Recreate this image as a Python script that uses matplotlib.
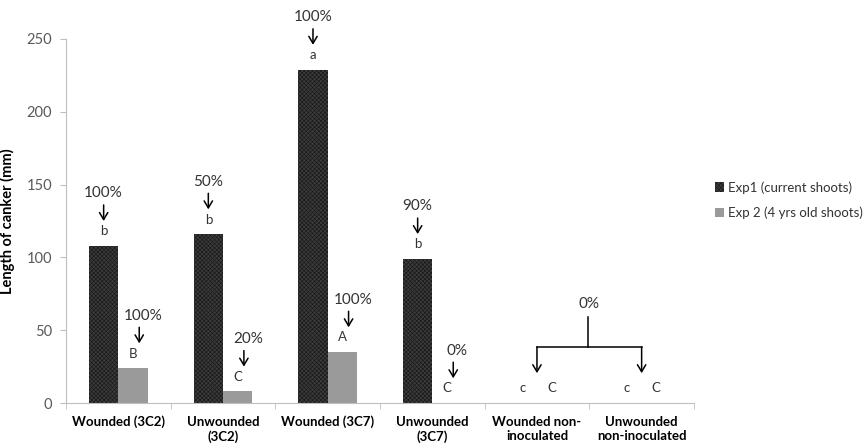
import matplotlib
matplotlib.use("Agg")
import matplotlib.pyplot as plt
import numpy as np

# canker length per treatment
categories = ["Wounded (3C2)", "Unwounded\n(3C2)", "Wounded (3C7)", "Unwounded\n(3C7)",
              "Wounded non-\ninoculated", "Unwounded\nnon-inoculated"]
exp1 = [108, 116, 229, 99, 0, 0]
exp2 = [24, 8, 35, 0, 0, 0]
exp1_pct = ["100%", "50%", "100%", "90%", None, None]
exp2_pct = ["100%", "20%", "100%", "0%", None, None]
exp1_letters = ["b", "b", "a", "b", "c", "c"]
exp2_letters = ["B", "C", "A", "C", "C", "C"]
shared_pct = "0%"

plt.rcParams['font.family'] = ['Lato', 'DejaVu Sans']
plt.rcParams['hatch.color'] = '#1a1a1a'
plt.rcParams['hatch.linewidth'] = 0.5

fig = plt.figure(figsize=(8.68, 4.47), dpi=100)
ax = fig.add_axes([0.076, 0.0984, 0.7235, 0.8144])

x = np.arange(len(categories))
w = 0.28
b1 = ax.bar(x - w / 2, exp1, w, color='#3c3c3c', hatch='xxxxxxxx', linewidth=0,
            label='Exp1 (current shoots)')
b2 = ax.bar(x + w / 2, exp2, w, color='#9a9a9a', linewidth=0,
            label='Exp 2 (4 yrs old shoots)')

ax.set_xlim(-0.5, len(categories) - 0.5)
ax.set_ylim(0, 250)
ax.set_yticks(range(0, 251, 50))
ax.set_xticks(x)
ax.set_xticklabels(categories, fontweight='bold', fontsize=9.5, linespacing=1.25)
ax.set_xticks(np.arange(-0.5, len(categories), 1), minor=True)
ax.tick_params(axis='x', which='major', length=0, pad=9)
ax.tick_params(axis='x', which='minor', length=4, color='#bfbfbf')
ax.tick_params(axis='y', length=4, color='#bfbfbf', labelsize=10.5, labelcolor='#595959', pad=6)
ax.set_ylabel('Length of canker (mm)', fontweight='bold', fontsize=10.5, labelpad=8)
for s in ['top', 'right']:
    ax.spines[s].set_visible(False)
for s in ['left', 'bottom']:
    ax.spines[s].set_color('#bfbfbf')

arrow = dict(arrowstyle='->, head_length=0.5, head_width=0.3', color='black', lw=1.1,
             shrinkA=0, shrinkB=0)


def mark(xc, val, pct, letter, dx_arrow=0.0, dx_pct=0.0):
    ax.text(xc, val + 10, letter, ha='center', va='center', fontsize=9.5, color='#333333')
    if pct is None:
        return
    ax.annotate('', xy=(xc + dx_arrow, val + 17), xytext=(xc + dx_arrow, val + 28),
                arrowprops=arrow, annotation_clip=False)
    ax.text(xc + dx_pct, val + 36, pct, ha='center', va='center', fontsize=11, color='#333333',
            clip_on=False)


for i in range(len(categories)):
    mark(x[i] - w / 2, exp1[i], exp1_pct[i], exp1_letters[i])
    mark(x[i] + w / 2, exp2[i], exp2_pct[i], exp2_letters[i], dx_arrow=0.06, dx_pct=0.1)

# one bracket for both non-inoculated controls
ax.plot([4, 5], [38.5, 38.5], color='black', lw=1.1)
ax.plot([4.49, 4.49], [38.5, 59], color='black', lw=1.1)
for xc in [4, 5]:
    ax.annotate('', xy=(xc, 20.5), xytext=(xc, 38.5), arrowprops=arrow)
ax.text(4.5, 68, shared_pct, ha='center', va='center', fontsize=11, color='#333333')

fig.legend(handles=[b1, b2], loc='center left', bbox_to_anchor=(0.81, 0.552),
           frameon=False, fontsize=9.5, handlelength=0.7, handleheight=0.7,
           handletextpad=0.3, labelspacing=1.0, labelcolor='#333333')

fig.savefig('out.png', dpi=100)
